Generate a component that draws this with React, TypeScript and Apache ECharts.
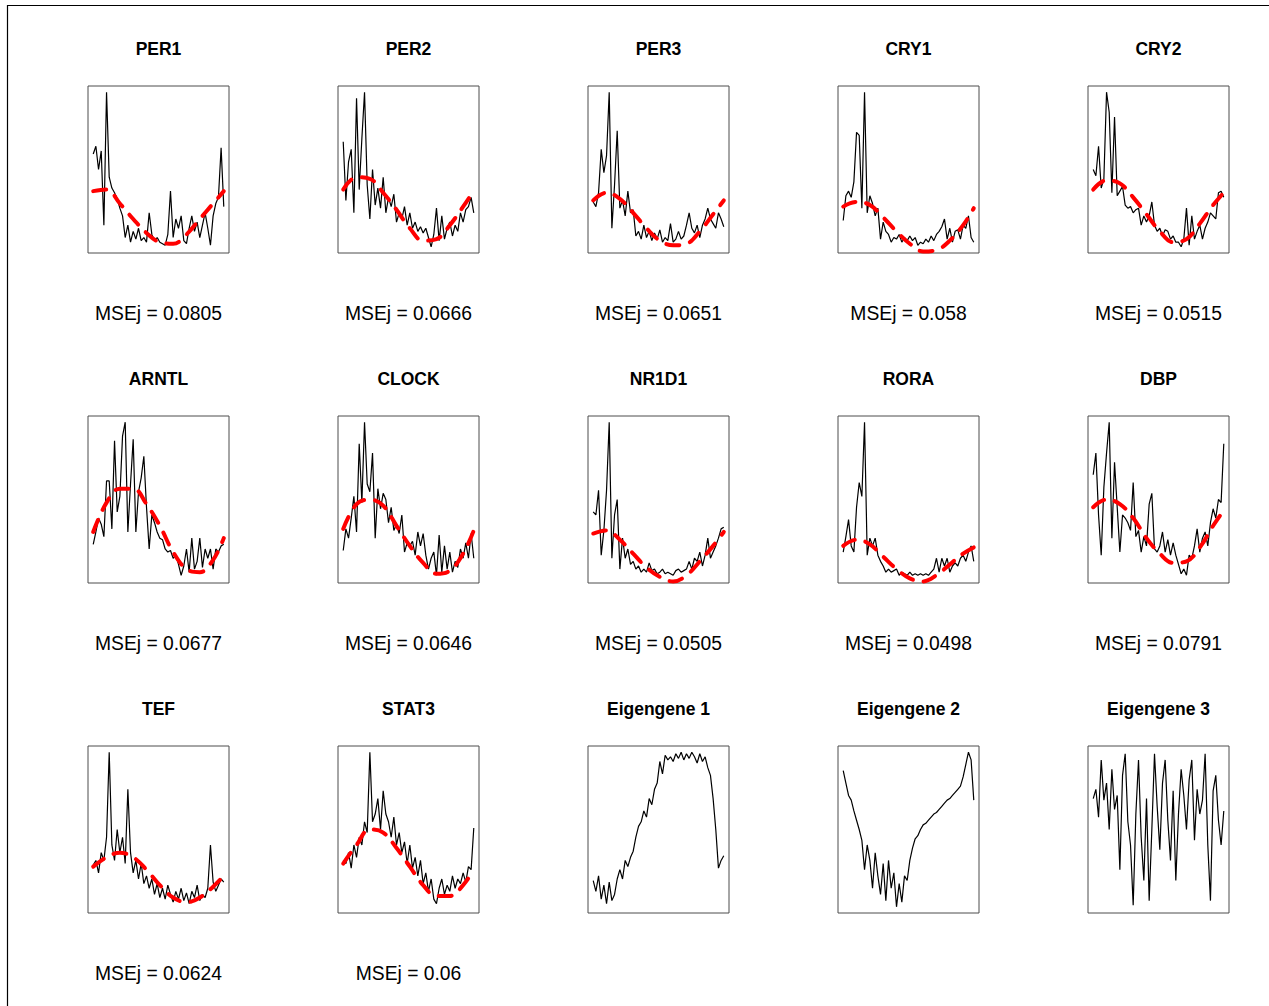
import React, { useEffect, useRef } from "react";
import * as echarts from "echarts";

const TITLES = ["PER1", "PER2", "PER3", "CRY1", "CRY2", "ARNTL", "CLOCK", "NR1D1", "RORA", "DBP", "TEF", "STAT3", "Eigengene 1", "Eigengene 2", "Eigengene 3"];
const MSE_LABELS = ["0.0805", "0.0666", "0.0651", "0.058", "0.0515", "0.0677", "0.0646", "0.0505", "0.0498", "0.0791", "0.0624", "0.06"];
const FIT_X = [0, 5, 10, 15, 20, 25, 30, 35, 40, 45, 49];

const PER1 = [60, 65, 50, 62, 14, 100, 45, 38, 35, 31, 25, 20, 6, 14, 3, 10, 5, 12, 4, 6, 3, 22, 8, 4, 6, 3, 2, 1, 8, 36, 6, 18, 12, 20, 4, 2, 12, 20, 10, 16, 6, 14, 22, 12, 1, 20, 28, 32, 64, 26];
const PER1_FIT = [36, 37, 28, 18, 9, 3, 2, 8, 18, 28, 36];
const PER2 = [68, 30, 55, 63, 22, 96, 37, 70, 100, 40, 18, 50, 27, 38, 25, 45, 22, 32, 26, 34, 16, 22, 18, 26, 14, 22, 12, 16, 10, 13, 9, 12, 6, 0, 8, 25, 4, 20, 5, 12, 16, 7, 14, 10, 22, 16, 24, 26, 32, 22];
const PER2_FIT = [37, 45, 44, 35, 24, 12, 4, 5, 14, 26, 36];
const PER3 = [29, 26, 35, 63, 48, 59, 100, 12, 40, 75, 25, 30, 20, 36, 22, 24, 7, 10, 5, 14, 6, 10, 4, 9, 5, 11, 3, 6, 4, 15, 3, 5, 10, 5, 7, 14, 22, 12, 9, 14, 6, 14, 18, 25, 18, 15, 12, 22, 18, 13];
const PER3_FIT = [30, 35, 31, 22, 12, 4, 1, 2, 10, 21, 30];
const CRY1 = [17, 33, 36, 32, 42, 74, 72, 25, 100, 22, 33, 28, 20, 25, 5, 16, 10, 8, 3, 6, 5, 8, 3, 6, 4, 7, 4, 6, 1, 3, 2, 5, 3, 7, 4, 8, 10, 13, 18, 5, 12, 3, 10, 11, 5, 14, 12, 20, 6, 3];
const CRY1_FIT = [26, 29, 27, 19, 10, 2, -3, -2, 4, 14, 25];
const CRY2 = [50, 46, 65, 38, 44, 100, 87, 35, 84, 33, 36, 39, 27, 25, 26, 22, 24, 25, 14, 20, 16, 20, 29, 14, 10, 12, 7, 11, 10, 5, 7, 3, 3, 0, 5, 25, 1, 20, 5, 10, 14, 5, 12, 16, 22, 20, 18, 35, 36, 32];
const CRY2_FIT = [37, 43, 41, 32, 21, 10, 3, 5, 15, 27, 35];
const ARNTL = [21, 29, 38, 34, 26, 62, 62, 31, 88, 42, 52, 91, 100, 29, 60, 89, 29, 55, 64, 78, 45, 18, 40, 35, 29, 25, 24, 18, 16, 17, 12, 14, 8, 1, 7, 18, 3, 25, 5, 10, 25, 6, 18, 12, 18, 5, 18, 16, 20, 21];
const ARNTL_FIT = [29, 48, 57, 57, 47, 33, 16, 5, 3, 11, 25];
const CLOCK = [17, 31, 25, 38, 52, 29, 86, 48, 100, 60, 55, 80, 25, 57, 44, 54, 50, 35, 45, 30, 34, 28, 40, 16, 22, 20, 23, 14, 29, 20, 28, 14, 5, 12, 16, 1, 27, 3, 20, 5, 16, 3, 10, 6, 18, 12, 22, 12, 28, 12];
const CLOCK_FIT = [31, 47, 50, 46, 33, 20, 9, 2, 4, 15, 30];
const NR1D1 = [42, 40, 56, 14, 30, 56, 100, 12, 40, 50, 5, 25, 12, 18, 8, 10, 5, 7, 3, 5, 3, 9, 4, 5, 2, 3, 5, 2, 3, 2, 1, 4, 5, 3, 4, 5, 10, 5, 12, 10, 16, 7, 14, 25, 12, 16, 20, 25, 31, 32];
const NR1D1_FIT = [28, 30, 24, 15, 6, 0, -3, 1, 10, 20, 29];
const RORA = [16, 26, 37, 20, 16, 45, 61, 52, 100, 14, 25, 20, 25, 14, 10, 7, 3, 5, 3, 4, 5, 1, 3, 2, 1, 3, 1, 2, 1, 2, 1, 2, 1, 3, 5, 12, 3, 12, 7, 12, 3, 7, 9, 7, 12, 14, 10, 16, 20, 10];
const RORA_FIT = [20, 24, 21, 13, 5, -1, -3, 1, 8, 15, 19];
const DBP = [66, 80, 40, 14, 58, 80, 100, 25, 74, 45, 16, 40, 38, 35, 30, 61, 26, 30, 16, 26, 20, 47, 54, 18, 16, 20, 29, 16, 24, 14, 22, 14, 8, 2, 5, 1, 14, 12, 20, 31, 16, 25, 29, 20, 35, 44, 38, 50, 48, 86];
const DBP_FIT = [45, 50, 47, 38, 25, 15, 9, 10, 19, 33, 43];
const TEF = [27, 30, 22, 35, 30, 45, 100, 40, 30, 50, 35, 45, 28, 76, 35, 22, 30, 18, 28, 15, 20, 12, 18, 8, 15, 6, 12, 5, 14, 8, 3, 10, 5, 12, 4, 9, 2, 10, 6, 14, 4, 8, 6, 12, 40, 16, 10, 14, 18, 16];
const TEF_FIT = [26, 32, 35, 32, 24, 14, 6, 3, 6, 13, 20];
const STAT3 = [30, 28, 35, 25, 40, 32, 45, 40, 55, 48, 100, 55, 60, 70, 50, 75, 60, 55, 45, 58, 40, 48, 35, 42, 28, 40, 25, 32, 20, 30, 15, 22, 10, 18, 5, 2, 12, 18, 8, 14, 10, 20, 12, 18, 15, 22, 16, 26, 24, 51];
const STAT3_FIT = [28, 40, 50, 48, 38, 26, 14, 7, 7, 14, 24];
const EIGEN1 = [17, 10, 20, 5, 14, 2, 16, 4, 8, 18, 24, 18, 30, 26, 32, 36, 45, 52, 55, 62, 58, 70, 66, 76, 80, 94, 86, 98, 95, 97, 94, 99, 96, 100, 95, 99, 96, 100, 97, 93, 99, 94, 97, 90, 85, 70, 50, 25, 30, 33];
const EIGEN2 = [88, 80, 72, 69, 62, 56, 50, 43, 24, 40, 30, 12, 35, 20, 8, 28, 4, 30, 12, 22, 0, 15, 3, 20, 17, 30, 38, 44, 46, 50, 53, 54, 56, 58, 60, 61, 63, 65, 67, 69, 70, 72, 74, 76, 78, 84, 92, 100, 95, 69];
const EIGEN3 = [70, 76, 58, 95, 69, 80, 50, 89, 63, 72, 24, 85, 99, 55, 40, 1, 60, 95, 45, 17, 70, 4, 50, 99, 65, 37, 80, 95, 56, 30, 75, 17, 60, 89, 72, 50, 82, 95, 43, 76, 60, 69, 99, 40, 4, 75, 85, 56, 40, 62];

const BLACK = [PER1, PER2, PER3, CRY1, CRY2, ARNTL, CLOCK, NR1D1, RORA, DBP, TEF, STAT3, EIGEN1, EIGEN2, EIGEN3];
const FITS = [PER1_FIT, PER2_FIT, PER3_FIT, CRY1_FIT, CRY2_FIT, ARNTL_FIT, CLOCK_FIT, NR1D1_FIT, RORA_FIT, DBP_FIT, TEF_FIT, STAT3_FIT];

const COL_LEFT = [88, 338, 588, 838, 1088];
const ROW_TOP = [86, 416, 746];
const BOX_W = 141;
const BOX_H = 167;
const FONT = '"Liberation Sans", Arial, Helvetica, sans-serif';

function buildOption() {
  const grid: any[] = [];
  const xAxis: any[] = [];
  const yAxis: any[] = [];
  const series: any[] = [];
  const graphic: any[] = [
    { type: "rect", shape: { x: 7.5, y: 5.5, width: 1400, height: 1200 }, style: { fill: "none", stroke: "#000", lineWidth: 1.2 }, silent: true },
  ];
  BLACK.forEach((vals, k) => {
    const col = k % 5;
    const row = Math.floor(k / 5);
    const left = COL_LEFT[col];
    const top = ROW_TOP[row];
    const n = vals.length - 1;
    grid.push({ left, top, width: BOX_W, height: BOX_H, show: true, borderColor: "#4d4d4d", borderWidth: 1, backgroundColor: "transparent" });
    xAxis.push({ gridIndex: k, type: "value", min: -0.04 * n, max: 1.04 * n, show: false });
    yAxis.push({ gridIndex: k, type: "value", min: -4, max: 104, show: false });
    series.push({
      type: "line", xAxisIndex: k, yAxisIndex: k, data: vals.map((v, i) => [i, v]),
      symbol: "none", lineStyle: { color: "#000", width: 1.2 }, z: 2,
    });
    if (FITS[k]) {
      series.push({
        type: "line", xAxisIndex: k, yAxisIndex: k, data: FITS[k].map((v, j) => [FIT_X[j], v]),
        symbol: "none", smooth: 0.4, lineStyle: { color: "#ff0000", width: 4, type: [13, 11], cap: "round" }, z: 3,
      });
    }
    const cx = left + BOX_W / 2;
    graphic.push({
      type: "text", x: cx, y: top - 37,
      style: { text: TITLES[k], fill: "#000", font: `bold 17.5px ${FONT}`, textAlign: "center", align: "center", textVerticalAlign: "middle", verticalAlign: "middle" },
    });
    if (MSE_LABELS[k]) {
      graphic.push({
        type: "text", x: cx, y: top + 227,
        style: { text: `MSEj = ${MSE_LABELS[k]}`, fill: "#000", font: `19.3px ${FONT}`, textAlign: "center", align: "center", textVerticalAlign: "middle", verticalAlign: "middle" },
      });
    }
  });
  return { animation: false, backgroundColor: "#fff", grid, xAxis, yAxis, series, graphic };
}

export default function App() {
  const ref = useRef<HTMLDivElement>(null);
  useEffect(() => {
    document.body.style.margin = "0";
    const chart = echarts.init(ref.current!, null, { renderer: "svg" });
    chart.setOption(buildOption());
    return () => chart.dispose();
  }, []);
  return <div ref={ref} style={{ width: 1269, height: 1006 }} />;
}
